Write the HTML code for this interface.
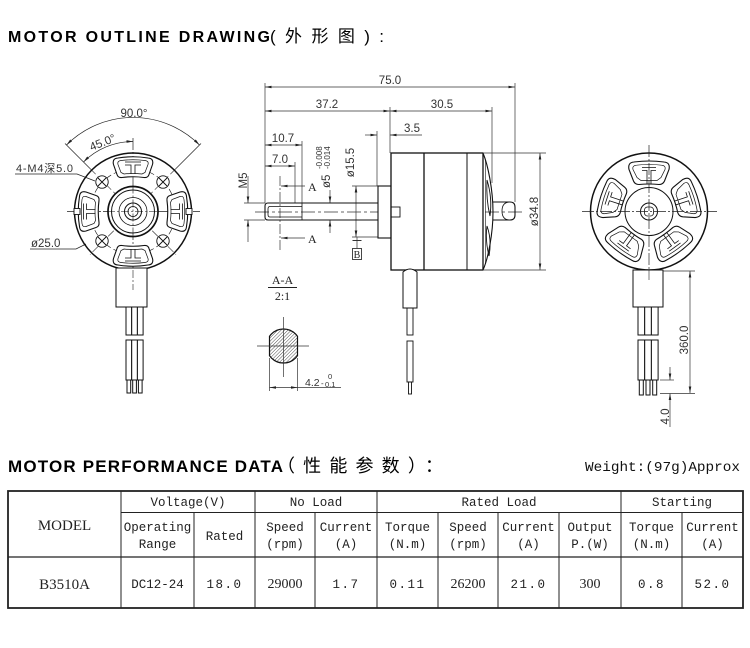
<!DOCTYPE html>
<html><head><meta charset="utf-8"><style>
html,body{margin:0;padding:0;background:#fff;}
svg{display:block;}
</style></head><body>
<svg width="750" height="648" viewBox="0 0 750 648" xmlns="http://www.w3.org/2000/svg">
<defs>
<marker id="a" viewBox="0 0 10 4" refX="10" refY="2" markerWidth="7" markerHeight="2.6" markerUnits="userSpaceOnUse" orient="auto-start-reverse"><path d="M0,0 L10,2 L0,4 z" fill="#222"/></marker>
<pattern id="h" patternUnits="userSpaceOnUse" width="2.4" height="2.4" patternTransform="rotate(45)"><line x1="0" y1="0" x2="0" y2="2.4" stroke="#222" stroke-width="0.8"/></pattern>
<clipPath id="sec"><rect x="269" y="320" width="29" height="60"/></clipPath>
<g id="fs">
<path d="M-11,-34 Q0,-35.5 11,-34 Q15,-33.5 16,-37 L19.5,-47 Q21,-53 15,-53.5 Q0,-56 -15,-53.5 Q-21,-53 -19.5,-47 L-16,-37 Q-15,-33.5 -11,-34 Z" fill="#fff" stroke="#111" stroke-width="1.1"/>
<path d="M-9,-37.5 Q0,-38.5 9,-37.5 L12,-39 L15,-47 Q16,-50.5 12,-51 Q0,-52.5 -12,-51 Q-16,-50.5 -15,-47 L-12,-39 Z" fill="none" stroke="#111" stroke-width="0.7"/>
<path d="M-8,-49.5 L8,-49.5 M-8,-46.5 L-2,-46.5 L-2,-37.5 M8,-46.5 L2,-46.5 L2,-37.5" fill="none" stroke="#111" stroke-width="0.8"/>
</g>
<g id="rs">
<path d="M-10,-27 Q0,-28 10,-27 Q14,-27 15.5,-30.5 L20,-42 Q21.5,-49 15,-49.5 Q0,-51.5 -15,-49.5 Q-21.5,-49 -20,-42 L-15.5,-30.5 Q-14,-27 -10,-27 Z" fill="#fff" stroke="#111" stroke-width="1.1"/>
<path d="M-8,-31 L8,-31 L12,-34 L16,-42 Q17,-46 12.5,-46.3 Q0,-47.8 -12.5,-46.3 Q-17,-46 -16,-42 L-12,-34 Z" fill="none" stroke="#111" stroke-width="0.7"/>
<path d="M-7,-44 L7,-44 M-7,-41 L-2,-41 L-2,-27 M7,-41 L2,-41 L2,-27" fill="none" stroke="#111" stroke-width="0.8"/>
</g>
</defs>

<!-- Titles -->
<text x="8" y="42" font-family="'Liberation Sans',sans-serif" font-weight="bold" font-size="16" textLength="262" lengthAdjust="spacing" fill="#000">MOTOR OUTLINE DRAWING</text>
<text x="270" y="42" font-family="'Liberation Sans','Noto Sans CJK SC',sans-serif" font-size="17" textLength="114" lengthAdjust="spacing" fill="#000">(外形图):</text>

<text x="8" y="472" font-family="'Liberation Sans',sans-serif" font-weight="bold" font-size="17" textLength="275" lengthAdjust="spacing" fill="#000">MOTOR PERFORMANCE DATA</text>
<text x="277" y="472" font-family="'Noto Sans CJK SC',sans-serif" font-size="18" textLength="166" lengthAdjust="spacing" fill="#000">（性能参数）：</text>
<text x="585" y="471" font-family="'Liberation Mono',monospace" font-size="14" textLength="155" lengthAdjust="spacingAndGlyphs" fill="#111">Weight:(97g)Approx</text>

<!-- ============ FRONT VIEW ============ -->
<g fill="none" stroke="#222">
  <line x1="67" y1="211.5" x2="200" y2="211.5" stroke-width="0.7" stroke-dasharray="12 2 2 2"/>
  <line x1="133" y1="138" x2="133" y2="290" stroke-width="0.7" stroke-dasharray="12 2 2 2"/>
  <line x1="65" y1="143.5" x2="90" y2="168.5" stroke-width="0.7"/>
  <line x1="201" y1="143.5" x2="176" y2="168.5" stroke-width="0.7"/>
  <line x1="90" y1="168.5" x2="176" y2="254.5" stroke-width="0.6" stroke-dasharray="8 3"/>
  <line x1="176" y1="168.5" x2="90" y2="254.5" stroke-width="0.6" stroke-dasharray="8 3"/>
  <path d="M66.5,145 A94,94 0 0 1 199.5,145" stroke-width="0.7" marker-start="url(#a)" marker-end="url(#a)"/>
  <path d="M83.5,162 A70,70 0 0 1 133,141.5" stroke-width="0.7" marker-start="url(#a)" marker-end="url(#a)"/>
  <polyline points="15,174 77,174 95,181" stroke-width="0.7"/>
  <polyline points="30,249 76,249 86,244" stroke-width="0.7"/>
</g>
<text x="134" y="117" text-anchor="middle" font-family="'Liberation Sans',sans-serif" font-size="11.5" fill="#333">90.0°</text>
<text transform="translate(104,146) rotate(-22)" text-anchor="middle" font-family="'Liberation Sans',sans-serif" font-size="11.5" fill="#333">45.0°</text>
<text x="16" y="172" font-family="'Liberation Sans','Noto Sans CJK SC',sans-serif" font-size="11" fill="#333" textLength="57" lengthAdjust="spacing">4-M4深5.0</text>
<text x="31" y="247" font-family="'Liberation Sans',sans-serif" font-size="11.5" fill="#333">ø25.0</text>

<g transform="translate(133,211.5)" fill="none" stroke="#111">
  <circle r="58.5" stroke-width="1.5"/>
  <circle r="42.5" stroke-width="0.6" stroke-dasharray="6 3"/>
  <use href="#fs"/>
  <use href="#fs" transform="rotate(180)"/>
  <use href="#fs" transform="rotate(90)"/>
  <use href="#fs" transform="rotate(-90)"/>
  <rect x="-59" y="-3" width="6" height="6" fill="#fff" stroke-width="0.9"/>
  <rect x="53" y="-3" width="6" height="6" fill="#fff" stroke-width="0.9"/>
  <circle r="25" stroke-width="1.7" fill="#fff"/>
  <circle r="21.5" stroke-width="1"/>
  <circle r="14" stroke-width="0.8"/>
  <circle r="8.5" stroke-width="1"/>
  <circle r="5" stroke-width="0.8"/>
  <line x1="-26" y1="0" x2="26" y2="0" stroke-width="0.6" stroke-dasharray="8 2 2 2"/>
  <line x1="0" y1="-26" x2="0" y2="26" stroke-width="0.6" stroke-dasharray="8 2 2 2"/>
  <g stroke-width="0.9">
    <circle cx="-31" cy="-29.5" r="6.2" fill="#fff"/><path d="M-35,-33.5 L-27,-25.5 M-27,-33.5 L-35,-25.5"/>
    <circle cx="30" cy="-29.5" r="6.2" fill="#fff"/><path d="M26,-33.5 L34,-25.5 M34,-33.5 L26,-25.5"/>
    <circle cx="-31" cy="29.5" r="6.2" fill="#fff"/><path d="M-35,25.5 L-27,33.5 M-27,25.5 L-35,33.5"/>
    <circle cx="30" cy="29.5" r="6.2" fill="#fff"/><path d="M26,25.5 L34,33.5 M34,25.5 L26,33.5"/>
  </g>
</g>
<g fill="#fff" stroke="#111" stroke-width="1">
  <rect x="116" y="268" width="31" height="39"/>
  <rect x="126" y="307" width="5.7" height="28"/><rect x="131.7" y="307" width="5.7" height="28"/><rect x="137.4" y="307" width="5.7" height="28"/>
  <rect x="126" y="340" width="5.7" height="40"/><rect x="131.7" y="340" width="5.7" height="40"/><rect x="137.4" y="340" width="5.7" height="40"/>
  <rect x="127" y="380" width="3.7" height="13"/><rect x="132.7" y="380" width="3.7" height="13"/><rect x="138.4" y="380" width="3.7" height="13"/>
</g>
<line x1="133" y1="270" x2="133" y2="290" stroke="#222" stroke-width="0.6" stroke-dasharray="8 2 2 2"/>

<!-- ============ SIDE VIEW ============ -->
<g fill="none" stroke="#333" stroke-width="0.7">
  <line x1="265" y1="87" x2="515" y2="87" marker-start="url(#a)" marker-end="url(#a)"/>
  <line x1="265" y1="83" x2="265" y2="203"/>
  <line x1="515" y1="83" x2="515" y2="202"/>
  <line x1="265" y1="111" x2="390" y2="111" marker-start="url(#a)" marker-end="url(#a)"/>
  <line x1="390" y1="111" x2="492" y2="111" marker-start="url(#a)" marker-end="url(#a)"/>
  <line x1="390" y1="107" x2="390" y2="153"/>
  <line x1="492" y1="107" x2="492" y2="183"/>
  <line x1="365" y1="135" x2="377" y2="135" marker-end="url(#a)"/>
  <line x1="422" y1="135" x2="390" y2="135" marker-end="url(#a)"/>
  <line x1="377" y1="131" x2="377" y2="186"/>
  <line x1="265" y1="145" x2="302" y2="145" marker-start="url(#a)" marker-end="url(#a)"/>
  <line x1="302" y1="141" x2="302" y2="203"/>
  <line x1="265" y1="166" x2="295" y2="166" marker-start="url(#a)" marker-end="url(#a)"/>
  <line x1="295" y1="162" x2="295" y2="203"/>
  <line x1="248" y1="176" x2="248" y2="203" marker-end="url(#a)"/>
  <line x1="248" y1="242" x2="248" y2="220" marker-end="url(#a)"/>
  <line x1="244" y1="203" x2="265" y2="203"/>
  <line x1="244" y1="220" x2="265" y2="220"/>
  <line x1="280" y1="176" x2="280" y2="250" stroke-dasharray="10 2 2 2"/>
  <line x1="305" y1="186" x2="281" y2="186" marker-end="url(#a)"/>
  <line x1="305" y1="238" x2="281" y2="238" marker-end="url(#a)"/>
  <line x1="330" y1="190" x2="330" y2="203" marker-end="url(#a)"/>
  <line x1="330" y1="233" x2="330" y2="220" marker-end="url(#a)"/>
  <line x1="356" y1="186" x2="356" y2="237" marker-start="url(#a)" marker-end="url(#a)"/>
  <line x1="352" y1="186" x2="378" y2="186"/>
  <line x1="352" y1="237" x2="378" y2="237"/>
  <line x1="357" y1="237" x2="357" y2="248"/>
  <line x1="352.5" y1="240.5" x2="361.5" y2="240.5" stroke-width="1"/>
  <rect x="352.5" y="248.5" width="9" height="11" stroke-width="0.9"/>
  <line x1="540" y1="153" x2="540" y2="270" marker-start="url(#a)" marker-end="url(#a)"/>
  <line x1="484" y1="153" x2="546" y2="153"/>
  <line x1="484" y1="270" x2="546" y2="270"/>
  <line x1="255" y1="212" x2="522" y2="212" stroke-dasharray="14 3 3 3"/>
</g>
<g font-family="'Liberation Sans',sans-serif" font-size="11.5" fill="#333" text-anchor="middle">
  <text x="390" y="84">75.0</text>
  <text x="327" y="108">37.2</text>
  <text x="442" y="108">30.5</text>
  <text x="412" y="132">3.5</text>
  <text x="283" y="142">10.7</text>
  <text x="280" y="163">7.0</text>
  <text transform="translate(247,180.5) rotate(-90)">M5</text>
  <text transform="translate(354,162.5) rotate(-90)">ø15.5</text>
  <text transform="translate(538,211.5) rotate(-90)">ø34.8</text>
</g>
<g font-family="'Liberation Sans',sans-serif" fill="#333">
  <text transform="translate(330,188) rotate(-90)" font-size="11.5">ø5</text>
  <text transform="translate(330,169) rotate(-90)" font-size="8">-0.014</text>
  <text transform="translate(322,169) rotate(-90)" font-size="8">-0.008</text>
</g>
<g font-family="'Liberation Serif',serif" fill="#222" font-size="12">
  <text x="308" y="191">A</text>
  <text x="308" y="243">A</text>
  <text x="357" y="258" text-anchor="middle" font-size="10">B</text>
</g>

<g fill="none" stroke="#111">
  <path d="M378,203 L268,203 Q265,203 265,206 L265,217 Q265,220 268,220 L378,220" stroke-width="1.1"/>
  <path d="M302,206.5 L270,206.5 Q268,206.5 268,209 L268,214.5 Q268,217 270,217 L302,217 M302,203 L302,220" stroke-width="0.8"/>
  <rect x="378" y="186" width="13" height="52" fill="#fff" stroke-width="1.1"/>
  <rect x="391" y="153" width="92" height="117" fill="#fff" stroke-width="1.3"/>
  <line x1="424" y1="153" x2="424" y2="270" stroke-width="1.3"/>
  <line x1="467" y1="153" x2="467" y2="270" stroke-width="1"/>
  <rect x="391" y="207" width="9" height="10" stroke-width="0.9"/>
  <path d="M483,153 C488,165 493,190 493,212 C493,234 488,259 483,270" stroke-width="1.1"/>
  <line x1="485.5" y1="160" x2="485.5" y2="264" stroke-width="0.6"/>
  <path d="M487,180 Q492.5,198 490,216 Q486,200 487,180 Z" stroke-width="0.9"/>
  <path d="M487,226 Q492,240 489,256 Q485,240 487,226 Z" stroke-width="0.9"/>
  <path d="M493,202 L510,202 Q515,202 515,207 L515,215 Q515,220 510,220 L493,220" stroke-width="1.1"/>
  <path d="M510,202 Q502,202 502,211 Q502,220 510,220" stroke-width="0.8"/>
  <path d="M403,308 L403,272 Q410,266 417,272 L417,308 Z" fill="#fff" stroke-width="1"/>
  <rect x="407" y="308" width="6" height="27" stroke-width="0.9"/>
  <rect x="407" y="341" width="6" height="41" stroke-width="0.9"/>
  <rect x="408.5" y="382" width="3" height="12" stroke-width="0.9"/>
</g>

<!-- ============ SECTION A-A ============ -->
<g font-family="'Liberation Serif',serif" fill="#222" font-size="12" text-anchor="middle">
  <text x="282.5" y="284">A-A</text>
  <text x="282.5" y="300">2:1</text>
</g>
<line x1="268" y1="287.5" x2="297" y2="287.5" stroke="#222" stroke-width="1"/>
<g clip-path="url(#sec)">
  <circle cx="283.5" cy="346" r="17" fill="url(#h)" stroke="#111" stroke-width="1.2"/>
</g>
<g fill="none" stroke="#111" stroke-width="1.2">
  <line x1="269.5" y1="336" x2="269.5" y2="356"/>
  <line x1="297.5" y1="336" x2="297.5" y2="356"/>
</g>
<g fill="none" stroke="#333" stroke-width="0.7">
  <line x1="257" y1="346" x2="309" y2="346"/>
  <line x1="283.5" y1="317" x2="283.5" y2="377"/>
  <line x1="269.5" y1="358" x2="269.5" y2="391"/>
  <line x1="297.5" y1="358" x2="297.5" y2="391"/>
  <line x1="269.5" y1="387.5" x2="297.5" y2="387.5" marker-start="url(#a)" marker-end="url(#a)"/>
  <line x1="297.5" y1="387.5" x2="341" y2="387.5"/>
</g>
<g font-family="'Liberation Sans',sans-serif" fill="#333">
  <text x="305" y="386" font-size="10.5">4.2</text>
  <text x="321" y="386" font-size="8">-</text>
  <text x="328" y="379" font-size="7.5">0</text>
  <text x="325" y="387" font-size="7.5">0.1</text>
</g>

<!-- ============ REAR VIEW ============ -->
<g transform="translate(649,211.5)" fill="none" stroke="#111">
  <circle r="58.5" stroke-width="1.5"/>
  <use href="#rs"/>
  <use href="#rs" transform="rotate(72)"/>
  <use href="#rs" transform="rotate(144)"/>
  <use href="#rs" transform="rotate(216)"/>
  <use href="#rs" transform="rotate(288)"/>
  <circle r="24" stroke-width="1" fill="#fff"/>
  <circle r="8.5" stroke-width="1"/>
  <rect x="-4.5" y="-4.5" width="9" height="9" rx="3" stroke-width="0.8"/>
</g>
<g fill="none" stroke="#222" stroke-width="0.7" stroke-dasharray="12 2 2 2">
  <line x1="582" y1="211.5" x2="717" y2="211.5"/>
  <line x1="649" y1="145" x2="649" y2="280"/>
</g>
<g fill="#fff" stroke="#111" stroke-width="1">
  <rect x="633" y="270" width="30" height="37"/>
  <rect x="638" y="307" width="6.7" height="28"/><rect x="644.7" y="307" width="6.7" height="28"/><rect x="651.4" y="307" width="6.7" height="28"/>
  <rect x="638" y="340" width="6.7" height="40"/><rect x="644.7" y="340" width="6.7" height="40"/><rect x="651.4" y="340" width="6.7" height="40"/>
  <rect x="639.3" y="380" width="4" height="15"/><rect x="646" y="380" width="4" height="15"/><rect x="652.7" y="380" width="4" height="15"/>
</g>
<line x1="649" y1="270" x2="649" y2="280" stroke="#222" stroke-width="0.6"/>
<g fill="none" stroke="#333" stroke-width="0.7">
  <line x1="690" y1="271" x2="690" y2="393" marker-start="url(#a)" marker-end="url(#a)"/>
  <line x1="663" y1="271" x2="695" y2="271"/>
  <line x1="660" y1="393.5" x2="695" y2="393.5"/>
  <line x1="660" y1="380" x2="674" y2="380"/>
  <line x1="670" y1="367" x2="670" y2="380" marker-end="url(#a)"/>
  <line x1="670" y1="427" x2="670" y2="393.5" marker-end="url(#a)"/>
</g>
<g font-family="'Liberation Sans',sans-serif" font-size="11.5" fill="#333" text-anchor="middle">
  <text transform="translate(688,340) rotate(-90)">360.0</text>
  <text transform="translate(669,416.5) rotate(-90)">4.0</text>
</g>

<!-- ============ TABLE ============ -->
<g stroke="#222" fill="none">
  <rect x="8" y="491" width="735" height="117" stroke-width="1.8"/>
  <line x1="8" y1="557" x2="743" y2="557" stroke-width="1.3"/>
  <line x1="121" y1="512.5" x2="743" y2="512.5" stroke-width="1"/>
  <line x1="121" y1="491" x2="121" y2="608" stroke-width="1"/>
  <line x1="255" y1="491" x2="255" y2="608" stroke-width="1"/>
  <line x1="377" y1="491" x2="377" y2="608" stroke-width="1"/>
  <line x1="621" y1="491" x2="621" y2="608" stroke-width="1"/>
  <line x1="194" y1="512.5" x2="194" y2="608" stroke-width="1"/>
  <line x1="315" y1="512.5" x2="315" y2="608" stroke-width="1"/>
  <line x1="438" y1="512.5" x2="438" y2="608" stroke-width="1"/>
  <line x1="498" y1="512.5" x2="498" y2="608" stroke-width="1"/>
  <line x1="559" y1="512.5" x2="559" y2="608" stroke-width="1"/>
  <line x1="682" y1="512.5" x2="682" y2="608" stroke-width="1"/>
</g>
<g font-family="'Liberation Mono',monospace" font-size="12.5" fill="#222" text-anchor="middle">
  <text x="188" y="506">Voltage(V)</text>
  <text x="316" y="506">No Load</text>
  <text x="499" y="506">Rated Load</text>
  <text x="682" y="506">Starting</text>

  <text x="157.5" y="531">Operating</text><text x="157.5" y="548">Range</text>
  <text x="224.5" y="540">Rated</text>
  <text x="285" y="531">Speed</text><text x="285" y="548">(rpm)</text>
  <text x="346" y="531">Current</text><text x="346" y="548">(A)</text>
  <text x="407.5" y="531">Torque</text><text x="407.5" y="548">(N.m)</text>
  <text x="468" y="531">Speed</text><text x="468" y="548">(rpm)</text>
  <text x="528.5" y="531">Current</text><text x="528.5" y="548">(A)</text>
  <text x="590" y="531">Output</text><text x="590" y="548">P.(W)</text>
  <text x="651.5" y="531">Torque</text><text x="651.5" y="548">(N.m)</text>
  <text x="712.5" y="531">Current</text><text x="712.5" y="548">(A)</text>

  <text x="157.5" y="588">DC12-24</text>
  <text x="224.5" y="588" letter-spacing="1.5">18.0</text>
  <text x="346" y="588" letter-spacing="1.5">1.7</text>
  <text x="407.5" y="588" letter-spacing="1.5">0.11</text>
  <text x="528.5" y="588" letter-spacing="1.5">21.0</text>
  <text x="651.5" y="588" letter-spacing="1.5">0.8</text>
  <text x="712.5" y="588" letter-spacing="1.5">52.0</text>
</g>
<g font-family="'Liberation Serif',serif" fill="#222" text-anchor="middle">
  <text x="64.5" y="530" font-size="15">MODEL</text>
  <text x="64.5" y="589" font-size="15">B3510A</text>
  <text x="285" y="588" font-size="14">29000</text>
  <text x="468" y="588" font-size="14">26200</text>
  <text x="590" y="588" font-size="14">300</text>
</g>
</svg>
</body></html>
